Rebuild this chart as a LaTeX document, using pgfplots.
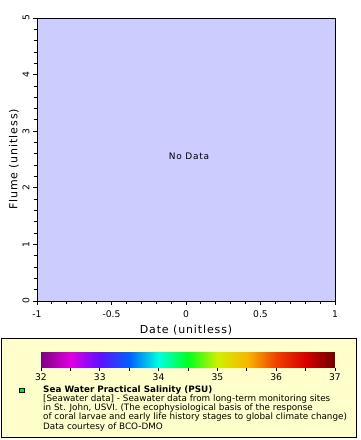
\documentclass[border=0pt]{standalone}
\usepackage{pgfplots}
\pgfplotsset{compat=1.18}
\usepackage{fontspec}
\setmainfont{DejaVu Sans}
\newfontfamily\labfont{DejaVu Sans}[LetterSpace=8]
\newfontfamily\ndfont{DejaVu Sans}[LetterSpace=8]
\definecolor{bgblue}{RGB}{204,204,255}
\definecolor{legbg}{RGB}{255,255,204}
\definecolor{mkgreen}{RGB}{0,240,0}
\pgfplotsset{colormap={erd}{rgb255(0cm)=(128,0,128) rgb255(1cm)=(224,0,224) rgb255(2cm)=(96,16,255) rgb255(3cm)=(0,96,255) rgb255(4cm)=(0,255,224) rgb255(5cm)=(0,255,32) rgb255(6cm)=(208,240,0) rgb255(7cm)=(248,184,0) rgb255(8cm)=(240,64,0) rgb255(9cm)=(216,0,0) rgb255(10cm)=(112,0,0)}}
\begin{document}
\begin{tikzpicture}[x=1pt,y=1pt]
% legend box
\filldraw[fill=legbg, draw=black, line width=0.8pt] (1,3) rectangle (356,102);
% main axis
\begin{axis}[
  at={(37pt,139pt)}, anchor=south west, scale only axis,
  width=298pt, height=283pt,
  xmin=-1, xmax=1, ymin=0, ymax=5,
  axis background/.style={fill=bgblue},
  axis line style={line width=0.8pt},
  xtick={-1,-0.5,0,0.5,1}, xticklabels={-1,-0.5,0,0.5,1},
  ytick={0,1,2,3,4,5}, yticklabels={0,1,2,3,4,5},
  minor x tick num=4, minor y tick num=4,
  xtick pos=bottom, ytick pos=left, tick align=outside,
  major tick length=4pt, minor tick length=2.5pt,
  tick style={black, line width=0.8pt},
  ticklabel style={font=\fontsize{9.2}{10}\selectfont},
  xticklabel style={yshift=-2.5pt},
  yticklabel style={rotate=90, anchor=south},
  every axis x label/.style={at={(axis description cs:0.5,0)}, anchor=center, yshift=-29pt, font=\labfont\fontsize{11}{13}\selectfont},
  every axis y label/.style={at={(axis description cs:0,0.5)}, rotate=90, anchor=center, yshift=23pt, font=\labfont\fontsize{11}{13}\selectfont},
  xlabel={Date (unitless)}, ylabel={Flume (unitless)},
]
\node[font=\ndfont\fontsize{9}{10}\selectfont] at (axis cs:0.02,2.55) {No Data};
\end{axis}
% colorbar
\begin{axis}[
  at={(41pt,72.5pt)}, anchor=south west, scale only axis,
  width=294pt, height=15.5pt,
  xmin=32, xmax=37, ymin=0, ymax=1,
  view={0}{90}, colormap name=erd,
  point meta min=32, point meta max=37,
  axis line style={draw=none},
  xtick={32,33,34,35,36,37}, xticklabels={32,33,34,35,36,37},
  minor xtick={32.5,33.5,34.5,35.5,36.5},
  ytick=\empty, ztick=\empty,
  xtick pos=bottom, tick align=outside,
  major tick length=3pt, minor tick length=3pt,
  tick style={black, line width=0.6pt},
  ticklabel style={font=\fontsize{9.2}{10}\selectfont},
]
\addplot3[surf, shader=interp, point meta=x] coordinates {
(32,0,0) (37,0,0)

(32,1,0) (37,1,0)
};
\end{axis}
% legend entries
\begin{scope}
\clip (1.5,3.5) rectangle (355.5,101.5);
\filldraw[fill=mkgreen, draw=black, line width=0.6pt] (19.5,47.5) rectangle (24,52);
\node[anchor=base west, inner sep=0, font=\fontsize{8.8}{9}\selectfont\bfseries] at (43,47) {Sea Water Practical Salinity (PSU)};
\node[anchor=base west, inner sep=0, font=\fontsize{8.8}{9}\selectfont] at (43,38) {[Seawater data] - Seawater data from long-term monitoring sites};
\node[anchor=base west, inner sep=0, font=\fontsize{8.8}{9}\selectfont] at (43,29) {in St. John, USVI. (The ecophysiological basis of the response};
\node[anchor=base west, inner sep=0, font=\fontsize{8.8}{9}\selectfont] at (43,20) {of coral larvae and early life history stages to global climate change)};
\node[anchor=base west, inner sep=0, font=\fontsize{8.8}{9}\selectfont] at (43,11) {Data courtesy of BCO-DMO};
\end{scope}
\pgfresetboundingbox
\path[use as bounding box] (0,0) rectangle (360,440);
\end{tikzpicture}
\end{document}
